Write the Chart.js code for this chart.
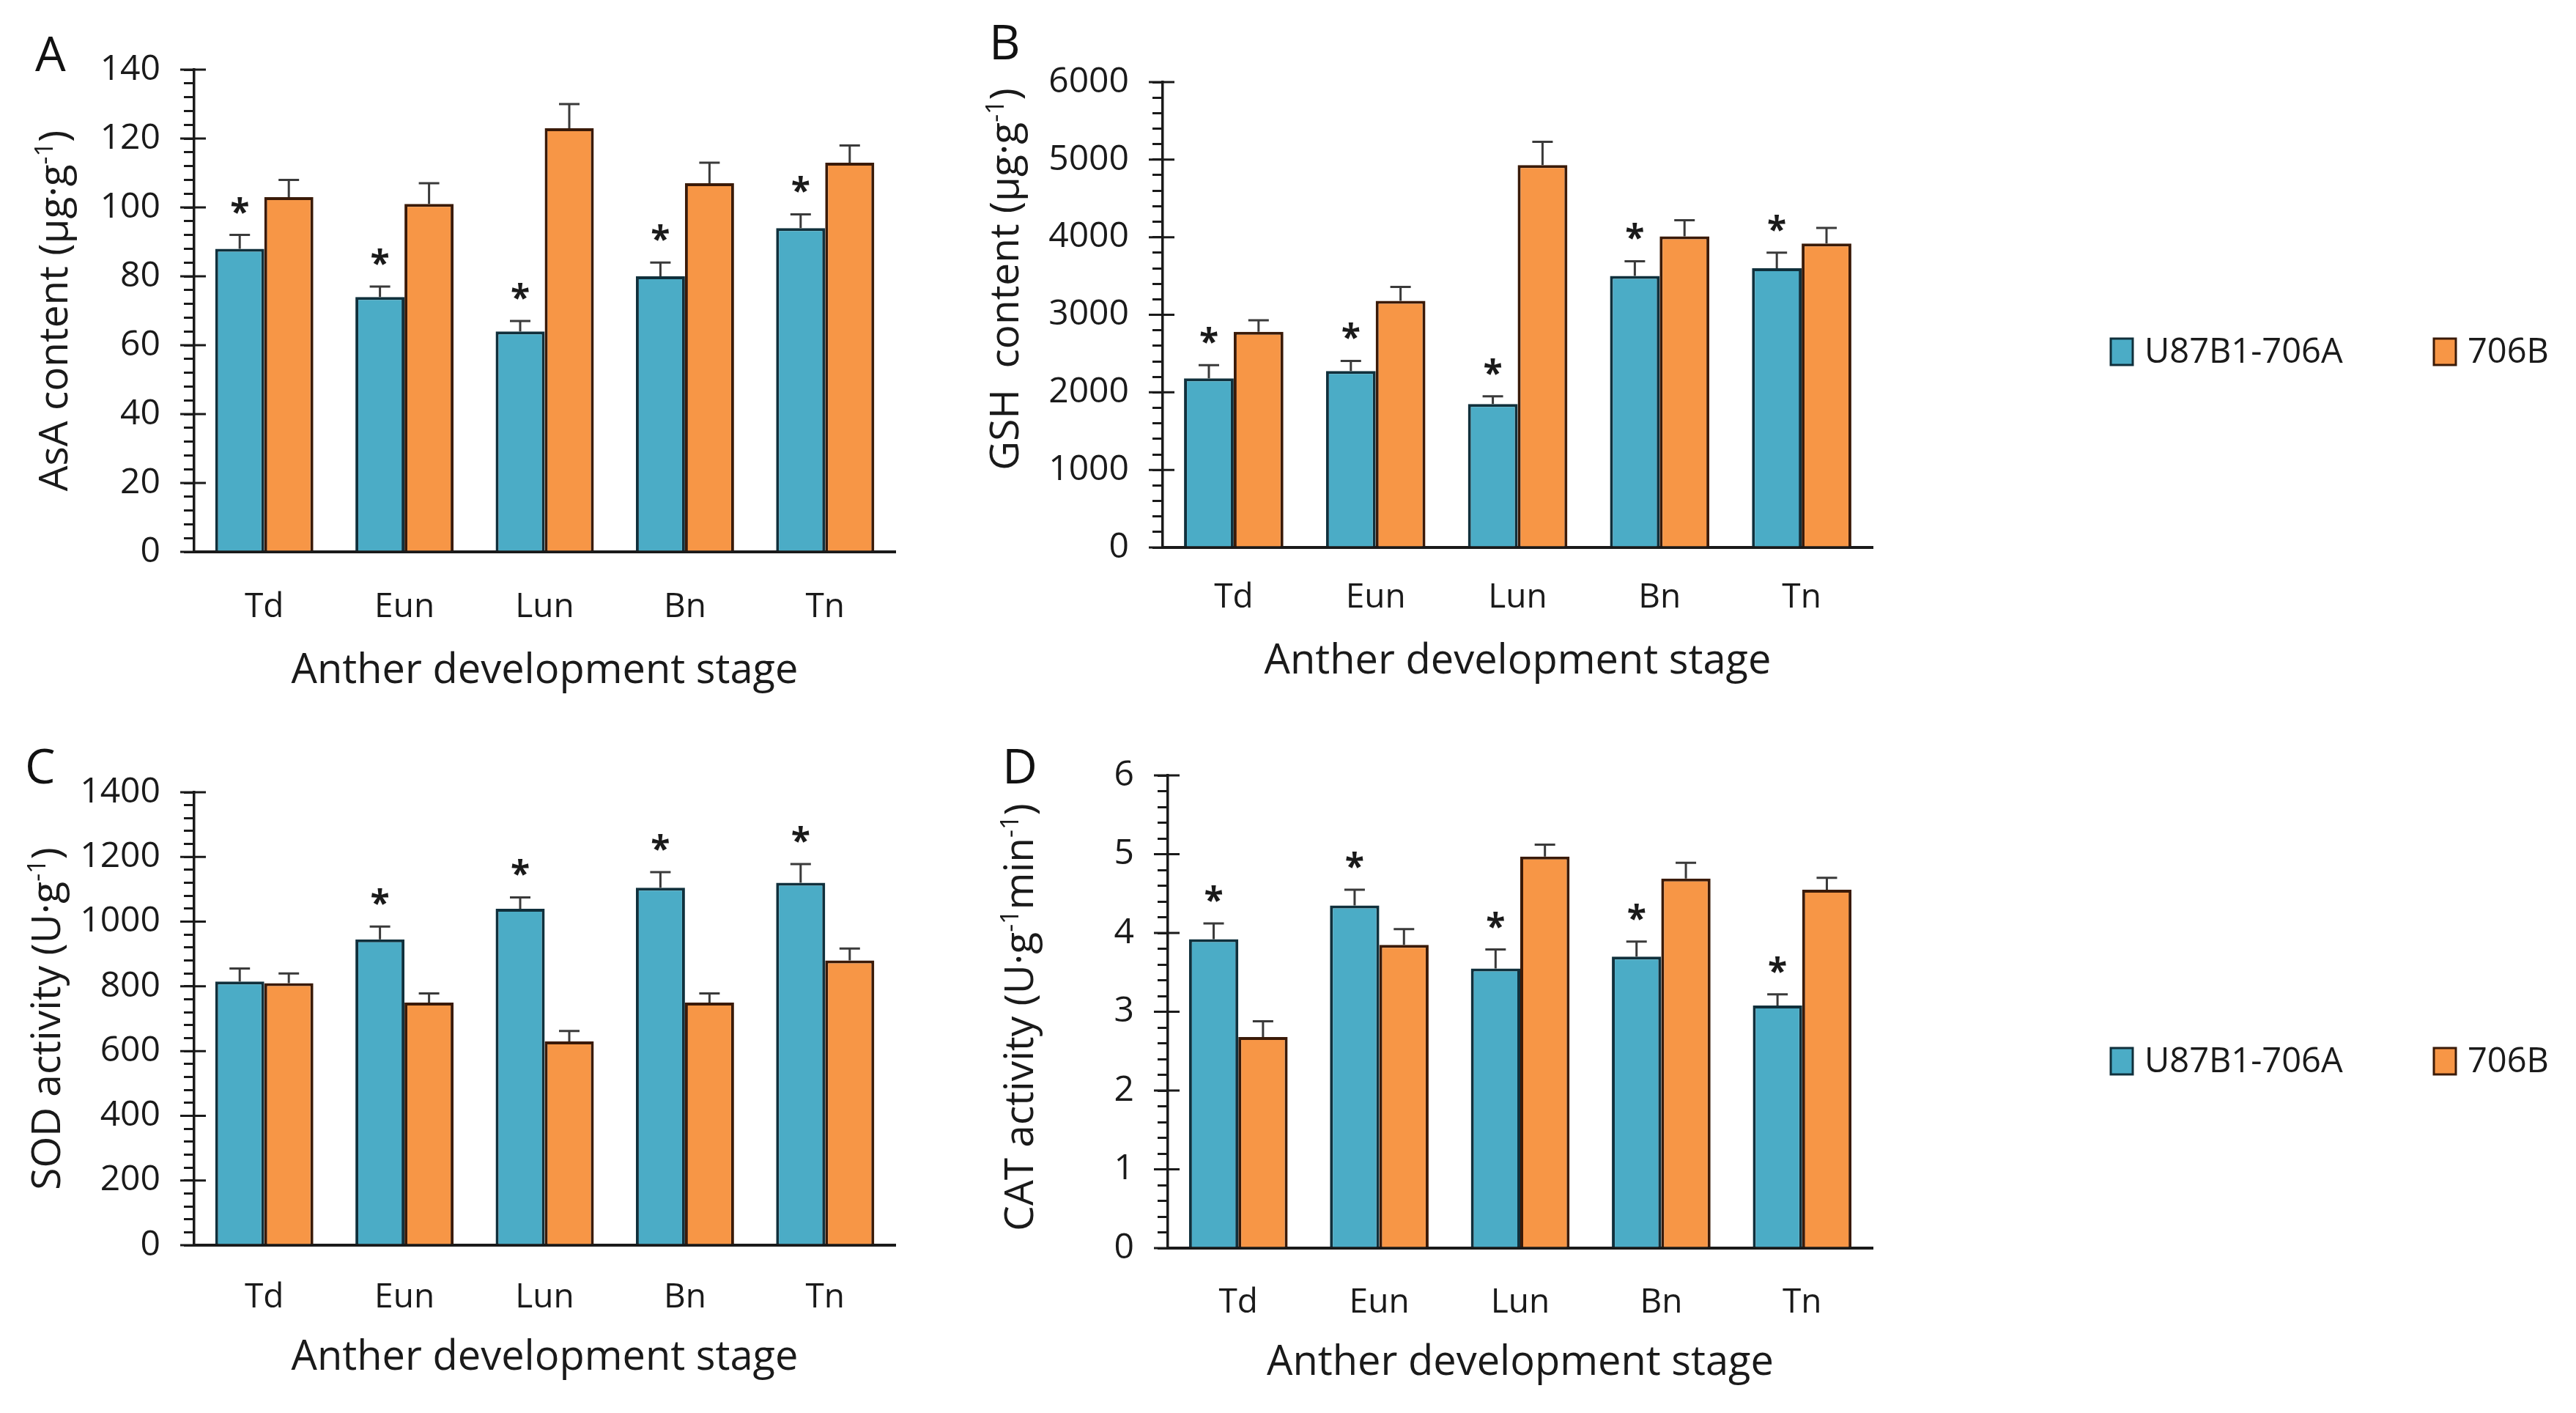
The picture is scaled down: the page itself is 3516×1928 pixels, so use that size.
<!DOCTYPE html>
<html>
<head>
<meta charset="utf-8">
<script src="https://cdn.jsdelivr.net/npm/chart.js@4.4.0/dist/chart.umd.min.js"></script>
<style>
html, body { margin: 0; padding: 0; background: #fff; }
#page { position: relative; width: 3516px; height: 1928px; overflow: hidden; }
.box { position: absolute; }
.tag { position: absolute; font-family: "Open Sans", sans-serif; font-size: 66px; color: #111; line-height: 1; }
</style>
</head>
<body>
<div id="page">
  <div class="tag" style="left:48px;top:38px">A</div>
  <div class="tag" style="left:1350px;top:22px">B</div>
  <div class="tag" style="left:34px;top:1010px">C</div>
  <div class="tag" style="left:1368px;top:1010px">D</div>
  <div class="box" style="left:0;top:0"><canvas id="chartA" width="1300" height="964"></canvas></div>
  <div class="box" style="left:1300px;top:0"><canvas id="chartB" width="2216" height="964"></canvas></div>
  <div class="box" style="left:0;top:964px"><canvas id="chartC" width="1300" height="964"></canvas></div>
  <div class="box" style="left:1300px;top:964px"><canvas id="chartD" width="2216" height="964"></canvas></div>
</div>
<script>
// data
const stages = ["Td", "Eun", "Lun", "Bn", "Tn"];
const lines = ["U87B1-706A", "706B"];

const asaSterile = [88, 74, 64, 80, 94];
const asaMaintainer = [103, 101, 123, 107, 113];
const asaSterileErr = [4, 3, 3, 4, 4];
const asaMaintainerErr = [5, 6, 7, 6, 5];
const asaStars = [1, 1, 1, 1, 1];
const asaTicks = [0, 140, 20];

const gshSterile = [2180, 2275, 1850, 3500, 3600];
const gshMaintainer = [2780, 3180, 4930, 4010, 3920];
const gshSterileErr = [170, 130, 100, 190, 200];
const gshMaintainerErr = [150, 180, 300, 210, 200];
const gshStars = [1, 1, 1, 1, 1];
const gshTicks = [0, 6000, 1000];

const sodSterile = [815, 945, 1040, 1105, 1120];
const sodMaintainer = [810, 750, 630, 750, 880];
const sodSterileErr = [40, 40, 35, 48, 58];
const sodMaintainerErr = [30, 28, 32, 28, 37];
const sodStars = [0, 1, 1, 1, 1];
const sodTicks = [0, 1400, 200];

const catSterile = [3.92, 4.35, 3.55, 3.70, 3.08];
const catMaintainer = [2.68, 3.85, 4.97, 4.69, 4.55];
const catSterileErr = [0.2, 0.2, 0.24, 0.19, 0.14];
const catMaintainerErr = [0.2, 0.2, 0.15, 0.2, 0.15];
const catStars = [1, 1, 1, 1, 1];
const catTicks = [0, 6, 1];

const FONT = '"Open Sans", sans-serif';
const INK = "#1a1a1a";
const fills = ["#4bacc6", "#f79646"];
const edges = ["#10303c", "#3a1a08"];

Chart.defaults.font.family = FONT;
Chart.defaults.color = INK;

// error bars (upper half only) and significance stars
const errorBars = {
  id: "errorBars",
  afterDatasetsDraw(chart, args, opts) {
    const ctx = chart.ctx;
    const y = chart.scales.y;
    ctx.save();
    ctx.strokeStyle = "#3a3a3a";
    ctx.lineWidth = 3;
    chart.data.datasets.forEach((ds, d) => {
      chart.getDatasetMeta(d).data.forEach((bar, i) => {
        const top = y.getPixelForValue(ds.data[i] + ds.errors[i]);
        ctx.beginPath();
        ctx.moveTo(bar.x, bar.y);
        ctx.lineTo(bar.x, top);
        ctx.moveTo(bar.x - 14, top);
        ctx.lineTo(bar.x + 14, top);
        ctx.stroke();
      });
    });
    const ds0 = chart.data.datasets[0];
    ctx.fillStyle = INK;
    ctx.font = "bold 48px " + FONT;
    ctx.textAlign = "center";
    ctx.textBaseline = "alphabetic";
    chart.getDatasetMeta(0).data.forEach((bar, i) => {
      if (!opts.stars[i]) return;
      const top = y.getPixelForValue(ds0.data[i] + ds0.errors[i]);
      ctx.fillText("*", bar.x, top - 42 + 27);
    });
    ctx.restore();
  }
};

// major ticks cross the axis line
const majorCross = {
  id: "majorCross",
  afterDraw(chart) {
    const s = chart.scales.y;
    const x0 = chart.chartArea.left;
    const ctx = chart.ctx;
    ctx.save();
    ctx.strokeStyle = INK;
    ctx.lineWidth = 3;
    s.ticks.forEach((t, i) => {
      if (t.label === "") return;
      const py = s.getPixelForTick(i);
      ctx.beginPath();
      ctx.moveTo(x0 - 19, py);
      ctx.lineTo(x0 + 16, py);
      ctx.stroke();
    });
    ctx.restore();
  }
};

// rotated y title with superscripts
const yTitle = {
  id: "yTitle",
  afterDraw(chart, args, opts) {
    const ctx = chart.ctx;
    const size = opts.size;
    const parts = opts.parts.map(p => ({
      text: p[0],
      sup: !!p[1],
      font: (p[1] ? Math.round(size * 0.62) : size) + "px " + FONT
    }));
    ctx.save();
    let total = 0;
    parts.forEach(p => { ctx.font = p.font; p.w = ctx.measureText(p.text).width; total += p.w; });
    ctx.translate(opts.x, opts.y);
    ctx.rotate(-Math.PI / 2);
    ctx.fillStyle = INK;
    ctx.textBaseline = "alphabetic";
    ctx.textAlign = "left";
    let cx = -total / 2;
    parts.forEach(p => {
      ctx.font = p.font;
      ctx.fillText(p.text, cx, size * 0.36 + (p.sup ? -size * 0.36 : 0));
      cx += p.w;
    });
    ctx.restore();
  }
};

// horizontal legend to the right of the panel
const sideLegend = {
  id: "sideLegend",
  afterDraw(chart, args, opts) {
    if (!opts.show) return;
    const ctx = chart.ctx;
    ctx.save();
    ctx.font = "47px " + FONT;
    ctx.textBaseline = "middle";
    ctx.textAlign = "left";
    chart.data.datasets.forEach((ds, d) => {
      const x = opts.xs[d];
      ctx.fillStyle = ds.backgroundColor;
      ctx.fillRect(x, opts.y - 18, 30, 36);
      ctx.strokeStyle = ds.borderColor;
      ctx.lineWidth = 3;
      ctx.strokeRect(x, opts.y - 18, 30, 36);
      ctx.fillStyle = INK;
      ctx.fillText(ds.label, x + 46, opts.y + 2);
    });
    ctx.restore();
  }
};

function makePanel(id, sterile, maintainer, sterileErr, maintainerErr, stars, ticks, titleParts, lay) {
  const [lo, hi, step] = ticks;
  return new Chart(document.getElementById(id), {
    type: "bar",
    data: {
      labels: stages,
      datasets: [
        { label: lines[0], data: sterile, errors: sterileErr,
          backgroundColor: fills[0], borderColor: edges[0], borderWidth: 4, borderSkipped: "bottom" },
        { label: lines[1], data: maintainer, errors: maintainerErr,
          backgroundColor: fills[1], borderColor: edges[1], borderWidth: 4, borderSkipped: "bottom" }
      ]
    },
    options: {
      responsive: false,
      animation: false,
      devicePixelRatio: 1,
      categoryPercentage: 0.7,
      barPercentage: 1.0,
      layout: { padding: { left: 0, top: lay.top, right: lay.right, bottom: 0 } },
      scales: {
        x: {
          grid: { display: false, drawTicks: false },
          border: { display: true, color: INK, width: 4 },
          ticks: { font: { size: 46 }, padding: lay.labelPad, color: INK },
          title: { display: true, text: "Anther development stage", font: { size: 56 },
                   color: INK, padding: { top: 0, bottom: lay.titlePad } },
          afterFit: s => { s.height = lay.xh; }
        },
        y: {
          min: lo, max: hi,
          // minor ticks every fifth of a step, labels only on the major ones
          grid: { display: true, drawOnChartArea: false, drawTicks: true, tickLength: 14,
                  tickWidth: 3, tickColor: INK, color: INK, lineWidth: 3 },
          border: { display: true, color: INK, width: 3.5 },
          ticks: {
            stepSize: step / 5, autoSkip: false, font: { size: 48 }, padding: 32, color: INK,
            callback: v => {
              const r = v / step;
              return Math.abs(r - Math.round(r)) < 1e-6 ? String(Math.round(r) * step) : "";
            }
          },
          afterFit: s => { s.width = lay.yw; }
        }
      },
      plugins: {
        legend: { display: false },
        tooltip: { enabled: false },
        errorBars: { stars: stars },
        yTitle: { parts: titleParts, x: lay.tx, y: lay.ty, size: 55 },
        sideLegend: { show: !!lay.legend, xs: lay.legend ? lay.legend.xs : [], y: lay.legend ? lay.legend.y : 0 }
      }
    },
    plugins: [errorBars, majorCross, yTitle, sideLegend]
  });
}

makePanel("chartA", asaSterile, asaMaintainer, asaSterileErr, asaMaintainerErr, asaStars, asaTicks,
  [["AsA content (μg·g"], ["-1", true], [")"]],
  { top: 95, right: 78, yw: 265, xh: 211, labelPad: 48, titlePad: 14, tx: 72, ty: 424 });

makePanel("chartB", gshSterile, gshMaintainer, gshSterileErr, gshMaintainerErr, gshStars, gshTicks,
  [["GSH  content (μg·g"], ["-1", true], [")"]],
  { top: 112, right: 960, yw: 287, xh: 217, labelPad: 41, titlePad: 27, tx: 70, ty: 381,
    legend: { xs: [1581, 2022], y: 480 } });

makePanel("chartC", sodSterile, sodMaintainer, sodSterileErr, sodMaintainerErr, sodStars, sodTicks,
  [["SOD activity (U·g"], ["-1", true], [")"]],
  { top: 117, right: 78, yw: 265, xh: 229, labelPad: 44, titlePad: 41, tx: 62, ty: 426 });

makePanel("chartD", catSterile, catMaintainer, catSterileErr, catMaintainerErr, catStars, catTicks,
  [["CAT activity (U·g"], ["-1", true], ["min"], ["-1", true], [")"]],
  { top: 94, right: 960, yw: 294, xh: 225, labelPad: 47, titlePad: 34, tx: 90, ty: 424,
    legend: { xs: [1581, 2022], y: 484 } });
</script>
</body>
</html>
